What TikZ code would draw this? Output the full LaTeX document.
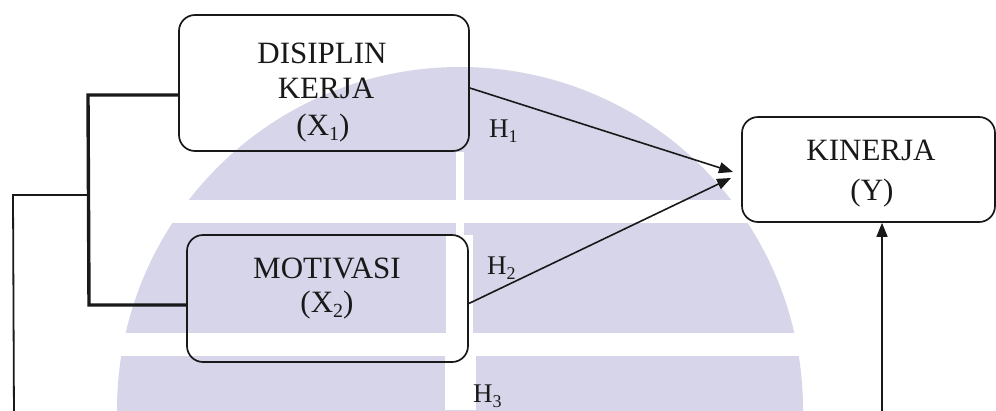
\documentclass[tikz,border=0pt]{standalone}
\usepackage{fontspec}
\setmainfont{Liberation Serif}
\usetikzlibrary{arrows.meta}
\definecolor{wm}{RGB}{214,213,233}
\definecolor{ink}{RGB}{25,25,25}
\newcommand{\hsubidx}[1]{\raisebox{-0.2em}{\fontsize{18}{18}\selectfont #1}}
\newcommand{\xsubidx}[1]{\raisebox{-0.18em}{\fontsize{20}{20}\selectfont #1}}
\begin{document}
\begin{tikzpicture}[x=1pt,y=-1pt,
  box/.style={draw=ink, line width=1.7pt, rounded corners=16pt, inner sep=0pt},
  lbl/.style={font=\fontsize{31}{36}\selectfont, text=ink, anchor=base, inner sep=0pt},
  hl/.style={font=\fontsize{27}{30}\selectfont, text=ink, anchor=base west, inner sep=0pt},
  con/.style={draw=ink, line width=1.8pt},
  heavy/.style={draw=ink, line width=3.4pt},
  arr/.style={draw=ink, line width=1.6pt, -{Triangle[length=14pt,width=11pt]}}
]
\path[use as bounding box, fill=white] (0,0) rectangle (996,410);
\clip (0,0) rectangle (996,410);
% watermark
\fill[wm] (460,410) circle[radius=343];
\fill[white] (0,200) rectangle (996,223);
\fill[white] (0,333) rectangle (996,356);
\fill[white] (456,152) rectangle (464,235);
\fill[white] (446,235) rectangle (473,333);
\fill[white] (445,356) rectangle (476,410);
% boxes
\node[box, minimum width=290pt, minimum height=136pt] (x1) at (324,83) {};
\node[box, minimum width=281pt, minimum height=127pt] (x2) at (327.5,298.5) {};
\node[box, minimum width=253pt, minimum height=105pt] (y) at (868.5,169.5) {};
% texts
\node[lbl] (t1a) at (322,63) {DISIPLIN};
\node[lbl] (t1b) at (326,98) {KERJA};
\node[lbl] (t1c) at (323,135) {(X\xsubidx{1})};
\node[lbl] (t2a) at (327,278) {MOTIVASI};
\node[lbl] (t2b) at (327,312) {(X\xsubidx{2})};
\node[lbl] (ya) at (871,160) {KINERJA};
\node[lbl] (yb) at (872,200) {(Y)};
\node[hl] (h1) at (489,137) {H\hsubidx{1}};
\node[hl] (h2) at (487,274) {H\hsubidx{2}};
\node[hl] (h3) at (473,402) {H\hsubidx{3}};
% connectors
\coordinate (tip1) at (733,172);
\coordinate (tip2) at (731,178);
\draw[arr] ([yshift=-5pt]x1.east) -- (tip1);
\draw[arr] ([yshift=-5pt]x2.east) -- (tip2);
\coordinate (jt) at (88,95);
\coordinate (jb) at (89,305);
\draw[heavy] ([yshift=-12pt]x1.west) -- (jt) -- (jb) -- ([yshift=-6.5pt]x2.west);
\coordinate (jm) at (88,195);
\coordinate (lc) at (13,195);
\coordinate (lb) at (14,420);
\draw[con] (jm) -- (lc) -- (lb);
\coordinate (rb) at (882,420);
\draw[arr] (rb) -- (rb |- y.south);
\end{tikzpicture}
\end{document}
